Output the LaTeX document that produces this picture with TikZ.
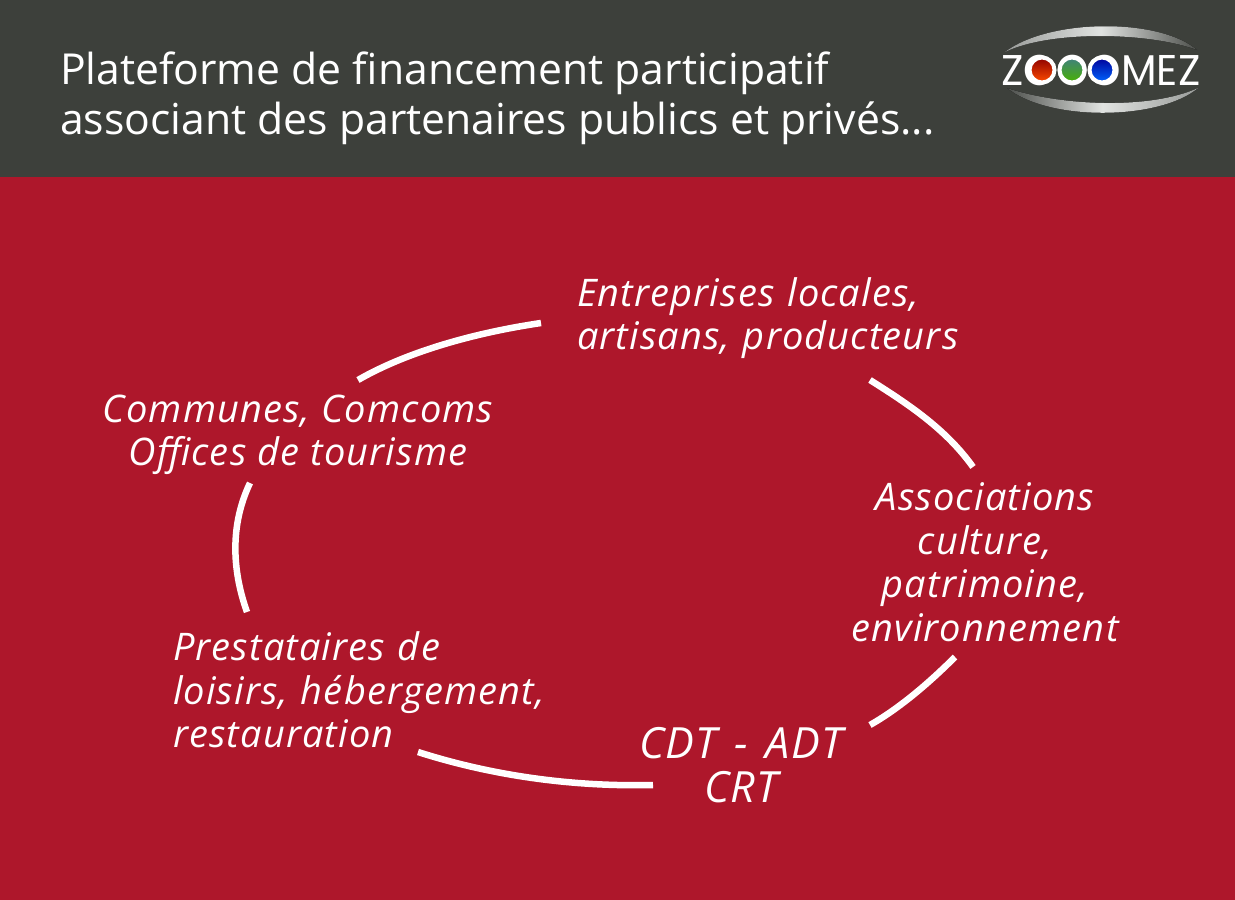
\documentclass[tikz,border=0pt]{standalone}
\usepackage{fontspec}
\setmainfont{Open Sans}
\newfontfamily\handfont[LetterSpace=3]{Open Sans}
\newfontfamily\logofont{Poppins}
\usepackage{graphicx}
\newlength{\du}
\setlength{\du}{1pt}
\definecolor{headercolor}{rgb}{0.239, 0.251, 0.231}
\definecolor{pagecolor}{rgb}{0.682, 0.090, 0.169}
\definecolor{swooshdark}{rgb}{0.300, 0.310, 0.295}
\definecolor{swooshmid}{rgb}{0.600, 0.610, 0.600}
\definecolor{swooshlight}{rgb}{0.880, 0.890, 0.880}
\tikzset{
  handtext/.style={inner ysep=0pt, outer sep=0pt, color=white, align=center,
    font=\handfont\itshape\fontsize{38}{43.5}\selectfont},
  arcline/.style={draw=white, line width=6.5\du, line cap=butt},
  titletext/.style={anchor=base west, inner sep=0pt, outer sep=0pt, color=white,
    font=\fontsize{42.7}{50}\selectfont},
  swooshtop/.style={left color=swooshmid, right color=swooshdark, middle color=swooshlight, draw=none},
  swooshbottom/.style={left color=swooshdark, right color=swooshmid, middle color=swooshlight, draw=none},
  glassball/.style={circle, minimum size=25\du, inner sep=0pt, draw=white, line width=4\du}
}
\begin{document}
\begin{tikzpicture}[even odd rule]
\pgftransformxscale{1.000000}
\pgftransformyscale{-1.000000}
\useasboundingbox (0\du,0\du) rectangle (1235\du,900\du);
% bands
\fill[pagecolor] (0\du,177\du) rectangle (1235\du,900\du);
\fill[headercolor] (0\du,0\du) rectangle (1235\du,177\du);
% header
\node[titletext] (titleone) at (60\du,84\du) {Plateforme de financement participatif};
\node[titletext] (titletwo) at (60\du,134\du) {associant des partenaires publics et privés...};
% logo
\fill[swooshtop] (1005\du,52\du) .. controls (1050\du,18\du) and (1160\du,18\du) .. (1197\du,50\du)
  .. controls (1150\du,32\du) and (1050\du,30\du) .. cycle;
\fill[swooshbottom] (1007\du,88\du) .. controls (1050\du,122\du) and (1160\du,120\du) .. (1198\du,88\du)
  .. controls (1150\du,110\du) and (1060\du,106\du) .. cycle;
\node[inner sep=0pt, color=white] (logotext) at (1101\du,70\du)
  {\scalebox{0.96}[1.0]{\logofont\fontsize{43}{43}\selectfont ZOOOMEZ}};
\node[glassball, top color=red!55!black, bottom color=orange!60!red] (ballred) at (1042\du,70\du) {};
\node[glassball, top color=teal!50!gray, bottom color=green!60!yellow!70!black] (ballgreen) at (1072\du,70\du) {};
\node[glassball, top color=blue!60!black, bottom color=blue!60!cyan] (ballblue) at (1102\du,70\du) {};
% texts
\node[handtext, align=left, text width=386\du, inner xsep=36\du, minimum height=124\du] (entreprises) at (770\du,318\du)
  {Entreprises locales,\\artisans, producteurs};
\node[handtext, minimum width=280\du, minimum height=190\du] (associations) at (985\du,562\du)
  {Associations\\culture,\\patrimoine,\\environnement};
\node[handtext, font=\handfont\itshape\fontsize{43}{43.5}\selectfont, minimum height=80\du] (cdt) at (741\du,765\du)
  {CDT\hspace{5\du} - \hspace{5\du}ADT\\CRT};
\node[handtext, align=left, text width=374\du, inner xsep=0pt, minimum height=156\du] (prestataires) at (360\du,690\du)
  {Prestataires de\\loisirs, hébergement,\\restauration};
\node[handtext, minimum width=396\du, minimum height=110\du] (communes) at (298\du,435\du)
  {Communes, Comcoms\\Offices de tourisme};
% arcs
\draw[arcline] ([xshift=60\du]communes.north) .. controls +(52\du,-30\du) and +(-61\du,9\du) .. ([yshift=5\du]entreprises.west);
\draw[arcline] ([xshift=100\du]entreprises.south) .. controls +(38\du,24\du) and +(-27\du,-38\du) .. ([xshift=-12\du]associations.north);
\draw[arcline] ([xshift=-30\du]associations.south) .. controls +(-25\du,25\du) and +(30\du,-17\du) .. ([xshift=129\du,yshift=-40\du]cdt.center);
\draw[arcline] ([xshift=-88\du,yshift=20\du]cdt.center) .. controls +(-83\du,2\du) and +(72\du,23\du) .. ([xshift=58\du,yshift=62\du]prestataires.center);
\draw[arcline] ([xshift=-113\du]prestataires.north) .. controls +(-15\du,-42\du) and +(-20\du,42\du) .. ([xshift=-48\du,yshift=-7\du]communes.south);
\end{tikzpicture}
\end{document}
